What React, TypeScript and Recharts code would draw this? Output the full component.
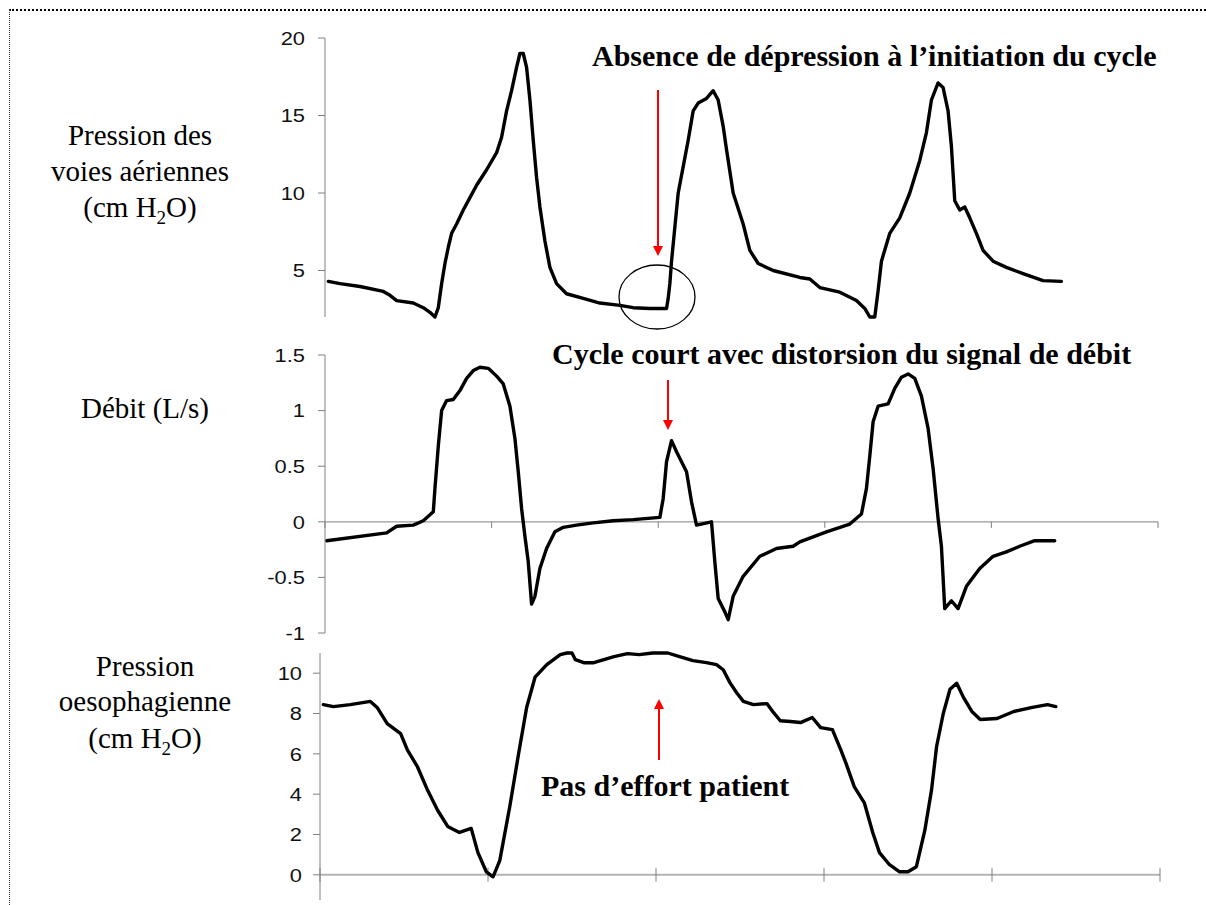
import React from 'react';
import { LineChart, Line, XAxis, YAxis, ReferenceLine } from 'recharts';

const W = 1206;
const H = 905;

// shared time axis
const timeTicks = [0, 100, 200, 300, 400, 500];

// Pression des voies aériennes (cm H2O)
const pawTime = [2, 9, 21, 35, 39, 43, 53, 59, 63, 66, 68, 70, 72, 74, 76, 79, 83, 87, 91, 97, 103, 106, 109, 112, 115, 117, 119, 121, 123, 125, 127, 129, 132, 135, 139, 145, 155, 165, 177, 185, 195, 205, 206, 207, 208, 210, 212, 215, 218, 221, 224, 229, 233, 236, 239, 241, 245, 251, 255, 260, 269, 285, 291, 297, 309, 319, 324, 327, 330, 332, 334, 339, 345, 351, 357, 361, 364, 368, 371, 374, 376, 378, 381, 384, 387, 391, 395, 401, 409, 419, 431, 442];
const pawValue = [4.3, 4.15, 3.97, 3.65, 3.4, 3.06, 2.9, 2.6, 2.3, 2.0, 2.6, 4.15, 5.45, 6.5, 7.4, 8.0, 8.9, 9.7, 10.5, 11.5, 12.6, 13.6, 15.3, 16.6, 18.1, 19.0, 19.0, 18.1, 16.0, 13.4, 11.0, 9.1, 6.9, 5.2, 4.15, 3.5, 3.2, 2.9, 2.75, 2.6, 2.55, 2.55, 3.2, 4.15, 5.6, 7.8, 10.0, 11.7, 13.4, 15.3, 15.8, 16.1, 16.6, 16.0, 14.3, 12.8, 10.0, 8.0, 6.3, 5.45, 5.0, 4.55, 4.45, 3.9, 3.6, 3.06, 2.55, 2.0, 2.0, 3.7, 5.6, 7.4, 8.4, 10.0, 12.1, 13.9, 16.0, 17.1, 16.8, 15.3, 13.0, 9.5, 8.9, 9.1, 8.4, 7.4, 6.3, 5.6, 5.2, 4.8, 4.35, 4.3];
const pawTicks = [5, 10, 15, 20];

// Débit (L/s)
const flowTime = [1, 37, 43, 53, 59, 65, 66, 68, 70, 73, 77, 81, 85, 89, 93, 98, 103, 107, 111, 114, 116, 118, 120, 122, 124, 126, 129, 133, 138, 143, 151, 161, 173, 185, 201, 203, 205, 208, 211, 217, 220, 223, 232, 234, 236, 240, 242, 245, 251, 261, 271, 281, 285, 301, 315, 322, 325, 327, 329, 332, 338, 342, 346, 350, 354, 358, 362, 365, 368, 370, 372, 376, 380, 385, 393, 401, 409, 417, 426, 438];
const flowValue = [-0.17, -0.1, -0.04, -0.03, 0.01, 0.09, 0.3, 0.68, 1.0, 1.09, 1.1, 1.18, 1.29, 1.36, 1.39, 1.38, 1.31, 1.24, 1.04, 0.75, 0.45, 0.12, -0.13, -0.36, -0.74, -0.67, -0.42, -0.24, -0.09, -0.05, -0.03, -0.01, 0.01, 0.02, 0.04, 0.21, 0.54, 0.73, 0.63, 0.45, 0.18, -0.03, 0.0, -0.36, -0.69, -0.81, -0.88, -0.67, -0.49, -0.31, -0.24, -0.22, -0.18, -0.09, -0.02, 0.07, 0.3, 0.59, 0.9, 1.04, 1.06, 1.2, 1.3, 1.33, 1.29, 1.13, 0.84, 0.48, 0.03, -0.22, -0.78, -0.71, -0.78, -0.58, -0.42, -0.31, -0.27, -0.22, -0.17, -0.17];
const flowTicks = [-1, -0.5, 0, 0.5, 1, 1.5];

// Pression oesophagienne (cm H2O)
const oesoTime = [2, 8, 18, 30, 34, 40, 48, 52, 58, 64, 70, 76, 83, 90, 94, 99, 103, 107, 113, 118, 123, 128, 135, 139, 143, 147, 150, 152, 157, 163, 169, 175, 183, 190, 198, 207, 214, 222, 230, 236, 240, 244, 248, 252, 258, 266, 270, 274, 280, 286, 293, 298, 305, 310, 313, 318, 324, 329, 333, 339, 345, 350, 355, 360, 364, 367, 371, 375, 379, 383, 388, 393, 403, 413, 424, 433, 438];
const oesoValue = [8.44, 8.34, 8.44, 8.6, 8.3, 7.5, 7.0, 6.2, 5.36, 4.2, 3.2, 2.4, 2.1, 2.3, 1.1, 0.15, -0.1, 0.7, 3.4, 5.9, 8.3, 9.8, 10.42, 10.67, 10.92, 11.0, 11.0, 10.67, 10.52, 10.52, 10.67, 10.82, 10.97, 10.92, 11.0, 11.0, 10.82, 10.62, 10.52, 10.42, 10.17, 9.53, 9.03, 8.6, 8.44, 8.49, 8.04, 7.64, 7.6, 7.55, 7.8, 7.3, 7.2, 6.2, 5.55, 4.37, 3.57, 2.1, 1.1, 0.5, 0.15, 0.15, 0.4, 2.2, 4.2, 6.35, 8.0, 9.2, 9.5, 8.8, 8.1, 7.7, 7.75, 8.1, 8.3, 8.44, 8.34];
const oesoTicks = [0, 2, 4, 6, 8, 10];

const zip = (t: number[], v: number[]) => t.map((x, i) => ({ t: x, v: v[i] }));
const pawData = zip(pawTime, pawValue);
const flowData = zip(flowTime, flowValue);
const oesoData = zip(oesoTime, oesoValue);

const YTick = (props: any) => {
  const { x, y, payload } = props;
  return (
    <g transform={`translate(${x},${y})`}>
      <text
        x={0}
        y={0}
        dy="0.36em"
        textAnchor="end"
        transform="scale(1.15,1)"
        fontFamily="'Liberation Sans', Arial, sans-serif"
        fontSize={19}
        fill="#111"
      >
        {String(payload.value)}
      </text>
    </g>
  );
};

const abs: React.CSSProperties = { position: 'absolute', left: 0, top: 0 };
const serif = "'Liberation Serif', 'Times New Roman', serif";

export default function App() {
  return (
    <div style={{ position: 'absolute', left: 0, top: 0, width: W, height: H, background: '#fff', overflow: 'hidden' }}>
      <div
        style={{
          position: 'absolute',
          left: 9,
          top: 9,
          width: W - 9,
          height: H - 9,
          borderTop: '2px dotted #000',
          borderLeft: '1px dotted #333',
          boxSizing: 'border-box',
        }}
      />

      {/* Panel 1: airway pressure */}
      <div style={abs}>
        <LineChart width={W} height={H} data={pawData} margin={{ top: 38, right: 48, bottom: H - 317, left: 0 }}>
          <XAxis dataKey="t" type="number" domain={[0, 500]} hide />
          <YAxis
            domain={[2, 20]}
            ticks={pawTicks}
            interval={0}
            width={325}
            tickSize={7}
            tickMargin={13}
            axisLine={{ stroke: '#808080', strokeWidth: 1 }}
            tickLine={{ stroke: '#808080' }}
            tick={<YTick />}
          />
          <Line dataKey="v" type="linear" stroke="#000" strokeWidth={3.4} strokeLinejoin="round" strokeLinecap="round" dot={false} isAnimationActive={false} />
        </LineChart>
      </div>

      {/* Panel 2: flow */}
      <div style={abs}>
        <LineChart width={W} height={H} data={flowData} margin={{ top: 355, right: 48, bottom: H - 633, left: 0 }}>
          <XAxis dataKey="t" type="number" domain={[0, 500]} hide />
          <YAxis
            domain={[-1, 1.5]}
            ticks={flowTicks}
            interval={0}
            width={325}
            tickSize={7}
            tickMargin={13}
            axisLine={{ stroke: '#808080', strokeWidth: 1 }}
            tickLine={{ stroke: '#808080' }}
            tick={<YTick />}
          />
          <ReferenceLine y={0} stroke="#9a9a9a" strokeWidth={1.2} />
          {timeTicks.map((tt) => (
            <ReferenceLine
              key={'ft' + tt}
              segment={[
                { x: tt, y: 0 },
                { x: tt, y: -0.055 },
              ]}
              stroke="#808080"
              strokeWidth={1}
            />
          ))}
          <Line dataKey="v" type="linear" stroke="#000" strokeWidth={3.4} strokeLinejoin="round" strokeLinecap="round" dot={false} isAnimationActive={false} />
        </LineChart>
      </div>

      {/* Panel 3: oesophageal pressure */}
      <div style={abs}>
        <LineChart width={W} height={H} data={oesoData} margin={{ top: 653, right: 46, bottom: H - 900, left: 0 }}>
          <XAxis dataKey="t" type="number" domain={[0, 500]} hide />
          <YAxis
            domain={[-1.25, 11]}
            ticks={oesoTicks}
            interval={0}
            width={320}
            tickSize={7}
            tickMargin={11}
            axisLine={{ stroke: '#808080', strokeWidth: 1 }}
            tickLine={{ stroke: '#808080' }}
            tick={<YTick />}
          />
          <ReferenceLine y={0} stroke="#b3b3b3" strokeWidth={2} />
          {timeTicks.map((tt) => (
            <ReferenceLine
              key={'ot' + tt}
              segment={[
                { x: tt, y: -0.35 },
                { x: tt, y: 0.35 },
              ]}
              stroke="#808080"
              strokeWidth={1}
            />
          ))}
          <Line dataKey="v" type="linear" stroke="#000" strokeWidth={3.4} strokeLinejoin="round" strokeLinecap="round" dot={false} isAnimationActive={false} />
        </LineChart>
      </div>

      {/* Annotations */}
      <svg width={W} height={H} style={{ ...abs, pointerEvents: 'none' }}>
        <g fontFamily={serif} fontSize={29} fill="#000" textAnchor="middle">
          <text x={140} y={145}>Pression des</text>
          <text x={140} y={181}>voies aériennes</text>
          <text x={140} y={217}>
            (cm H<tspan fontSize={19} dy={7}>2</tspan>
            <tspan dy={-7}>O)</tspan>
          </text>
          <text x={145} y={418}>Débit (L/s)</text>
          <text x={145} y={676}>Pression</text>
          <text x={145} y={711}>oesophagienne</text>
          <text x={145} y={748}>
            (cm H<tspan fontSize={19} dy={7}>2</tspan>
            <tspan dy={-7}>O)</tspan>
          </text>
        </g>
        <g fontFamily={serif} fontSize={30} fontWeight="bold" fill="#000">
          <text x={592} y={66}>Absence de dépression à l’initiation du cycle</text>
          <text x={552} y={364}>Cycle court avec distorsion du signal de débit</text>
          <text x={541} y={796}>Pas d’effort patient</text>
        </g>
        <g stroke="#ff0000" fill="#ff0000">
          <line x1={658} y1={90} x2={658} y2={247} strokeWidth={2} />
          <polygon points="653,246 663,246 658,256" stroke="none" />
          <line x1={668} y1={380} x2={668} y2={421} strokeWidth={2} />
          <polygon points="663,420 673,420 668,430" stroke="none" />
          <line x1={659} y1={708} x2={659} y2={760} strokeWidth={2} />
          <polygon points="654,709 664,709 659,699" stroke="none" />
        </g>
        <ellipse cx={657} cy={297} rx={38} ry={32} fill="none" stroke="#000" strokeWidth={1.3} />
      </svg>
    </div>
  );
}
